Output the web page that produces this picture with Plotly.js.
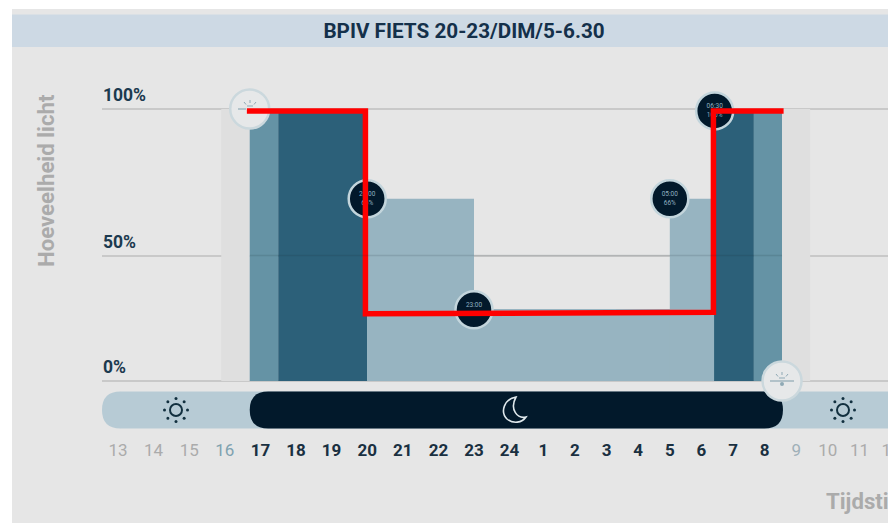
<!DOCTYPE html>
<html>
<head>
<meta charset="utf-8">
<script src="https://cdn.plot.ly/plotly-3.0.1.min.js"></script>
<style>html,body{margin:0;padding:0;background:#fff;overflow:hidden;width:888px;height:523px}#chart{width:960px;height:523px}</style>
</head>
<body>
<div id="chart"></div>
<script>
// ---- data (hours run on past midnight: 25 = 01:00 next day) ----
const chartTitle = "BPIV FIETS 20-23/DIM/5-6.30";
const yTitle = "Hoeveelheid licht";
const xTitle = "Tijdstip";

const tickHours  = [13,14,15,16,17,18,19,20,21,22,23,24,25,26,27,28,29,30,31,32,33,34,35,36];
const tickLabels = ["13","14","15","16","17","18","19","20","21","22","23","24","1","2","3","4","5","6","7","8","9","10","11","12"];
const tickKinds  = ["off","off","off","near","on","on","on","on","on","on","on","on","on","on","on","on","on","on","on","on","near2","off","off","off"];

const bandStart = [15.9, 16.7, 17.5, 20,   20, 29,   30.4, 31.66, 32.55];
const bandEnd   = [16.7, 17.5, 20,   30.4, 23, 30.4, 31.66, 32.55, 33.44];
const bandLevel = [100,  100,  100,  26.5, 67, 67,   100,  100,   100];
const bandKind  = ["grey","mid","dark","light","light","light","dark","mid","grey"];

const lineHours  = [16.62, 19.95, 19.95, 30.38, 30.38, 32.6];
const lineLevels = [99.3,  99.3,  24.7,  25.3,  99.3,  99.3];

const pointHours  = [20, 23, 29, 30.42];
const pointLevels = [67, 26.2, 67, 99.3];
const pointTimes  = ["20:00","23:00","05:00","06:30"];
const pointPct    = ["66%","26%","66%","100%"];

const sunHours  = [16.7, 32.55];
const sunLevels = [100, 0];

const yTickVals = [0, 46.1, 100];
const yTickText = ["0%","50%","100%"];

const nightStart = 16.7, nightEnd = 32.58;

// ---- style / layout helpers ----
const W = 960, H = 523;
const bandColor = {grey:"#dfdfdf", mid:"#6593a5", dark:"#2c6079", light:"#97b4c1"};
const tickStyle = {
  off:  t => `<span style="color:#ababab">${t}</span>`,
  near: t => `<span style="color:#7fa2b0">${t}</span>`,
  near2:t => `<span style="color:#9fb0b8">${t}</span>`,
  on:   t => `<b><span style="color:#1a3041">${t}</span></b>`
};
// The time axis is compressed after midnight in the picture
const pos = h => h <= 24 ? h : 24.06 + (h - 24) * 0.888;
const px = x => x / W, py = y => 1 - y / H;
const pxLeft = 102, unit = 35.6;
const xRange = [13 - (118 - pxLeft) / unit, 13 + (W - 118) / unit];
const yPerUnit = 2.72, yPad = 4;

const shapes = [];
const rect = (x0,y0,x1,y1,fill) => shapes.push({type:"rect",xref:"paper",yref:"paper",layer:"below",
  x0:px(x0),x1:px(x1),y0:py(y0),y1:py(y1),fillcolor:fill,line:{width:0}});
rect(12,9,W,H,"#e6e6e6");
rect(12,14.5,W,47,"#cdd9e4");

// day bar
const yt = py(391.5), yb = py(428.5), ry = 18.5 / H, rxp = 18.5 / W;
shapes.push({type:"path",xref:"paper",yref:"paper",layer:"below",fillcolor:"#b7cbd5",line:{width:0},
  path:`M ${px(W)} ${yt} L ${px(102)+rxp} ${yt} Q ${px(102)} ${yt} ${px(102)} ${yt-ry} Q ${px(102)} ${yb} ${px(102)+rxp} ${yb} L ${px(W)} ${yb} Z`});
// night bar, placed through the time axis
const a = pos(nightStart), b = pos(nightEnd), rx = 18.5 / unit;
shapes.push({type:"path",xref:"x",yref:"paper",layer:"below",fillcolor:"#02192b",line:{width:0},
  path:`M ${a+rx} ${yt} L ${b-rx} ${yt} Q ${b} ${yt} ${b} ${yt-ry} Q ${b} ${yb} ${b-rx} ${yb} L ${a+rx} ${yb} Q ${a} ${yb} ${a} ${yt-ry} Q ${a} ${yt} ${a+rx} ${yt} Z`});

// faint 50% line showing through the bars
shapes.push({type:"line",xref:"paper",yref:"paper",layer:"above",x0:px(250),x1:px(782),y0:py(255.5),y1:py(255.5),
  line:{color:"rgba(20,40,50,0.13)",width:1.5}});

// sun icons
function sun(cx, cy) {
  const dark = "#12303f";
  shapes.push({type:"circle",xref:"paper",yref:"paper",x0:px(cx-6),x1:px(cx+6),y0:py(cy-6),y1:py(cy+6),
    fillcolor:"rgba(0,0,0,0)",line:{color:dark,width:2}});
  for (let i = 0; i < 8; i++) {
    const t = i * Math.PI / 4, dx = 11.5 * Math.cos(t), dy = 11.5 * Math.sin(t);
    shapes.push({type:"circle",xref:"paper",yref:"paper",x0:px(cx+dx-1.5),x1:px(cx+dx+1.5),y0:py(cy+dy-1.5),y1:py(cy+dy+1.5),
      fillcolor:dark,line:{width:0}});
  }
}
sun(176,410); sun(843,410);

// moon icon
const mp = (x,y) => `${px(x)} ${py(y)}`;
shapes.push({type:"path",xref:"paper",yref:"paper",fillcolor:"rgba(0,0,0,0)",line:{color:"#dfe8ec",width:1.6},
  path:`M ${mp(516,397)} C ${mp(504,399)} ${mp(500,412)} ${mp(507,419)} C ${mp(513,424)} ${mp(522,423)} ${mp(526,417)} C ${mp(518,419)} ${mp(509,410)} ${mp(516,397)} Z`});

// sunrise / sunset glyphs
function horizon(cx, cy, leftOnly) {
  const c = "#8fa9b5";
  const ln = (x0,y0,x1,y1,w) => shapes.push({type:"line",xref:"paper",yref:"paper",x0:px(x0),x1:px(x1),y0:py(y0),y1:py(y1),line:{color:c,width:w||1}});
  ln(cx-12,cy,leftOnly?cx-4:cx+12,cy,1.2);
  ln(cx,cy-9,cx,cy-6); ln(cx-6,cy-7,cx-4,cy-4.5); ln(cx+6,cy-7,cx+4,cy-4.5);
  ln(cx-3,cy-3,cx+3,cy-3);
  if (!leftOnly) shapes.push({type:"circle",xref:"paper",yref:"paper",x0:px(cx-2),x1:px(cx+2),y0:py(cy+1),y1:py(cy+5),fillcolor:c,line:{width:0}});
}
horizon(250,109,true); horizon(782,381,false);

const traces = [];
bandStart.forEach((s,i) => {
  const x0 = pos(s), x1 = pos(bandEnd[i]);
  traces.push({type:"bar",x:[(x0+x1)/2],y:[bandLevel[i]],width:[x1-x0],
    marker:{color:bandColor[bandKind[i]],line:{width:0}},hoverinfo:"skip",showlegend:false});
});
// sunrise / sunset discs
traces.push({type:"scatter",mode:"markers",x:sunHours.map(pos),y:sunLevels,cliponaxis:false,showlegend:false,hoverinfo:"skip",
  marker:{size:39,color:"#e6e8e9",line:{color:"#cbd8dd",width:2.5}}});
// time/percentage discs
traces.push({type:"scatter",mode:"markers+text",x:pointHours.map(pos),y:pointLevels,cliponaxis:false,showlegend:false,hoverinfo:"skip",
  text:pointTimes.map((t,i)=>t+"<br>"+pointPct[i]),textposition:"middle center",
  textfont:{family:"Roboto",size:6.5,color:"#8fb0c0"},
  marker:{size:37,color:"#02192b",line:{color:"#c3d5dc",width:2.5}}});
// red line
traces.push({type:"scatter",mode:"lines",x:lineHours.map(pos),y:lineLevels,cliponaxis:false,showlegend:false,hoverinfo:"skip",
  line:{color:"#ff0000",width:5.5}});

const yFont = {family:"Roboto",size:17.5,weight:700,color:"#1c3a4f"};
const grayBold = {family:"Roboto",size:22.2,weight:700,color:"#ababab"};
const layout = {
  width:W,height:H,autosize:false,
  margin:{l:0,r:0,t:0,b:0},
  paper_bgcolor:"#ffffff",plot_bgcolor:"rgba(0,0,0,0)",
  showlegend:false,barmode:"overlay",
  title:{text:chartTitle,x:464/W,xref:"paper",xanchor:"center",y:py(31),yref:"paper",yanchor:"middle",
    font:{family:"Roboto",size:20.7,weight:700,color:"#14304a"}},
  xaxis:{domain:[pxLeft/W,1],range:xRange,tickmode:"array",tickvals:tickHours.map(pos),
    ticktext:tickLabels.map((t,i)=>tickStyle[tickKinds[i]](t)),
    ticks:"",ticklabelstandoff:46,tickangle:0,showgrid:false,zeroline:false,showline:false,
    tickfont:{family:"Roboto",size:17,color:"#1a3041"}},
  yaxis:{domain:[py(381+yPad*yPerUnit),py(109-yPad*yPerUnit)],range:[-yPad,100+yPad],tickmode:"array",tickvals:yTickVals,ticktext:yTickText,
    showticklabels:false,showgrid:true,gridcolor:"#c9c9c9",gridwidth:1.5,zeroline:false,showline:false,ticks:""},
  annotations:[
    ...yTickVals.map((v,i)=>({text:yTickText[i],xref:"paper",yref:"y",x:px(pxLeft),y:v,xanchor:"left",yanchor:"bottom",yshift:3,showarrow:false,borderpad:0,font:yFont})),
    {text:yTitle,xref:"paper",yref:"paper",x:px(46),y:py(181),xanchor:"center",yanchor:"middle",textangle:-90,showarrow:false,font:grayBold},
    {text:xTitle,xref:"paper",yref:"paper",x:px(824),y:py(501),xanchor:"left",yanchor:"middle",showarrow:false,font:grayBold}
  ],
  shapes:shapes
};
Plotly.newPlot("chart",traces,layout,{displayModeBar:false,responsive:false});
</script>
</body>
</html>
